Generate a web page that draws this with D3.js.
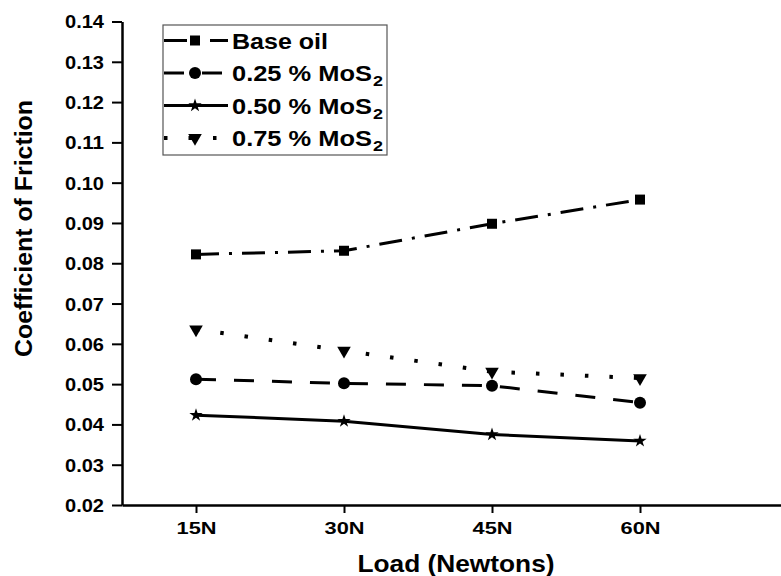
<!DOCTYPE html>
<html>
<head>
<meta charset="utf-8">
<script src="https://cdn.jsdelivr.net/npm/d3@7"></script>
<style>
  html, body { margin: 0; padding: 0; background: #fff; }
  svg { display: block; font-family: "Liberation Sans", Arial, sans-serif; font-weight: bold; }
</style>
</head>
<body>
<svg id="chart" width="781" height="576"></svg>
<script>
const categories = ["15N", "30N", "45N", "60N"];
const baseOil = [0.0822, 0.0831, 0.0898, 0.0958];
const mos025 = [0.0512, 0.0502, 0.0496, 0.0454];
const mos050 = [0.0423, 0.0408, 0.0375, 0.0359];
const mos075 = [0.0636, 0.0583, 0.0531, 0.0515];
const yTicks = [0.02, 0.03, 0.04, 0.05, 0.06, 0.07, 0.08, 0.09, 0.10, 0.11, 0.12, 0.13, 0.14];
const seriesNames = ["Base oil", "0.25 % MoS", "0.50 % MoS", "0.75 % MoS"];
const seriesSubs = ["", "2", "2", "2"];
const xTitle = "Load (Newtons)";
const yTitle = "Coefficient of Friction";

const series = [
  { name: seriesNames[0], sub: seriesSubs[0], values: baseOil, dash: "23,10,3,10", marker: "square" },
  { name: seriesNames[1], sub: seriesSubs[1], values: mos025, dash: "20,18", marker: "circle" },
  { name: seriesNames[2], sub: seriesSubs[2], values: mos050, dash: null, marker: "star" },
  { name: seriesNames[3], sub: seriesSubs[3], values: mos075, dash: "3.5,21", marker: "triangle" }
];

const svg = d3.select("#chart");
const x = d3.scaleLinear().domain([0.5, 5]).range([122, 788]);
const y = d3.scaleLinear().domain([0.02, 0.14]).range([505, 21.5]);

// X axis
const xMinor = d3.range(0.5, 5, 1);
const xMajor = categories.map((c, i) => i + 1);
const gx = svg.append("g").attr("transform", `translate(0,${y(0.02)})`);
gx.call(d3.axisBottom(x).tickValues(xMinor).tickSize(5).tickFormat("").tickSizeOuter(0));
gx.call(d3.axisBottom(x).tickValues(xMajor).tickSize(8).tickSizeOuter(0)
  .tickFormat(d => categories[d - 1]));
gx.selectAll(".domain").attr("stroke", "#000").attr("stroke-width", 2.5);
gx.selectAll(".tick line").attr("stroke", "#000").attr("stroke-width", 2);
gx.selectAll(".tick text").attr("fill", "#000").attr("font-size", 17).attr("font-weight", "bold")
  .attr("y", 0).attr("dy", 0).attr("transform", "translate(0,29)")
  .attr("textLength", 40).attr("lengthAdjust", "spacingAndGlyphs");

// Y axis
const yMinor = d3.range(0.025, 0.14, 0.01);
const gy = svg.append("g").attr("transform", `translate(${x(0.5)},0)`);
gy.call(d3.axisLeft(y).tickValues(yMinor).tickSize(5).tickFormat("").tickSizeOuter(0));
gy.call(d3.axisLeft(y).tickValues(yTicks).tickSize(10).tickSizeOuter(0).tickFormat(d3.format(".2f")));
gy.selectAll(".domain").attr("stroke", "#000").attr("stroke-width", 2.5);
gy.selectAll(".tick line").attr("stroke", "#000").attr("stroke-width", 2);
gy.selectAll(".tick text").attr("fill", "#000").attr("font-size", 18).attr("font-weight", "bold")
  .attr("x", -18).attr("dy", "0.36em")
  .attr("textLength", 39).attr("lengthAdjust", "spacingAndGlyphs");

// Axis titles
svg.append("text")
  .attr("x", 456).attr("y", 572).attr("text-anchor", "middle")
  .attr("font-size", 24).attr("textLength", 197).attr("lengthAdjust", "spacingAndGlyphs")
  .text(xTitle);
svg.append("text")
  .attr("transform", "translate(32,228.5) rotate(-90)").attr("text-anchor", "middle")
  .attr("font-size", 24).attr("textLength", 257).attr("lengthAdjust", "spacingAndGlyphs")
  .text(yTitle);

// Markers
function drawMarker(g, type, cx, cy) {
  if (type === "square") {
    g.append("rect").attr("x", cx - 5).attr("y", cy - 5).attr("width", 10).attr("height", 10).attr("fill", "#000");
  } else if (type === "circle") {
    g.append("circle").attr("cx", cx).attr("cy", cy).attr("r", 6).attr("fill", "#000");
  } else if (type === "star") {
    g.append("path").attr("d", d3.symbol().type(d3.symbolStar).size(55)())
      .attr("transform", `translate(${cx},${cy})`).attr("fill", "#000");
  } else if (type === "triangle") {
    g.append("path").attr("d", d3.symbol().type(d3.symbolTriangle).size(80)())
      .attr("transform", `translate(${cx},${cy}) rotate(180)`).attr("fill", "#000");
  }
}

const line = d3.line().x((d, i) => x(i + 1)).y(d => y(d));
series.forEach(s => {
  const g = svg.append("g");
  const p = g.append("path").attr("d", line(s.values)).attr("fill", "none")
    .attr("stroke", "#000").attr("stroke-width", s.marker === "triangle" ? 4 : 3);
  if (s.dash) p.attr("stroke-dasharray", s.dash);
  s.values.forEach((v, i) => drawMarker(g, s.marker, x(i + 1), y(v)));
});

// Legend
const lg = svg.append("g");
lg.append("rect").attr("x", 163).attr("y", 25).attr("width", 224).attr("height", 130)
  .attr("fill", "#fff").attr("stroke", "#555").attr("stroke-width", 1.2);
const nameWidths = [96, 140, 140, 140];
series.forEach((s, i) => {
  const base = 48.5 + i * 32.5;
  const cy = base - 8;
  const p = lg.append("line").attr("x1", 164).attr("x2", 228).attr("y1", cy).attr("y2", cy)
    .attr("stroke", "#000").attr("stroke-width", s.marker === "triangle" ? 4 : 3);
  if (s.dash) p.attr("stroke-dasharray", s.dash);
  drawMarker(lg, s.marker, 195, cy);
  lg.append("text").attr("x", 232).attr("y", base).attr("font-size", 22)
    .attr("textLength", nameWidths[i]).attr("lengthAdjust", "spacingAndGlyphs").text(s.name);
  if (s.sub) {
    lg.append("text").attr("x", 232 + nameWidths[i] + 1).attr("y", base + 5).attr("font-size", 15)
      .attr("textLength", 10).attr("lengthAdjust", "spacingAndGlyphs").text(s.sub);
  }
});
</script>
</body>
</html>
